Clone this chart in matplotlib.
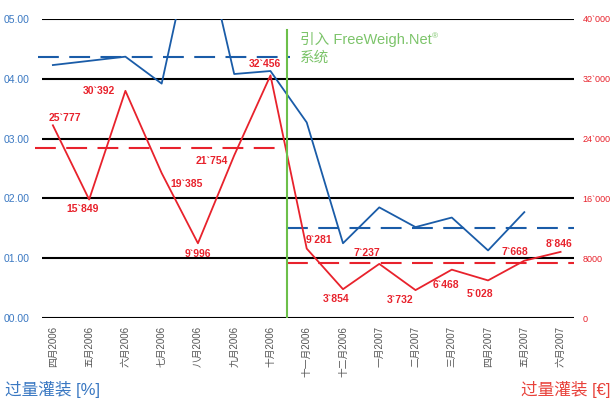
import numpy as np
import matplotlib.pyplot as plt

plt.rcParams['font.family'] = ['Liberation Sans', 'Noto Sans CJK SC']

months = ['四月2006', '五月2006', '六月2006', '七月2006', '八月2006', '九月2006', '十月2006',
          '十一月2006', '十二月2006', '一月2007', '二月2007', '三月2007', '四月2007',
          '五月2007', '六月2007']

# overfill in euro (red, right axis)
overfill_eur = [25777, 15849, 30392, 19385, 9996, 21754, 32456,
                9281, 3854, 7237, 3732, 6468, 5028, 7668, 8846]
eur_labels = ['25`777', '15`849', '30`392', '19`385', '9`996', '21`754', '32`456',
              '9`281', '3`854', '7`237', '3`732', '6`468', '5`028', '7`668', '8`846']

# overfill in percent (blue, left axis); May 2006 and June 2007 missing
pct_idx = [0, 2, 3, 4, 5, 6, 7, 8, 9, 10, 11, 12, 13]
overfill_pct = [4.23, 4.37, 3.92, 6.7, 4.08, 4.13, 3.27, 1.25, 1.85, 1.52, 1.68, 1.13, 1.77]

# averages before / after introduction
pct_mean_before, pct_mean_after = 4.37, 1.50
eur_mean_before, eur_mean_after = 22700, 7300
switch_x = 6.46

left_ticks = [0, 1, 2, 3, 4, 5]
left_labels = ['00.00', '01.00', '02.00', '03.00', '04.00', '05.00']
right_ticks = [0, 8000, 16000, 24000, 32000, 40000]
right_labels = ['0', '8000', '16`000', '24`000', '32`000', '40`000']

# label offsets in points (dx, dy)
offsets = [(9, 5), (-5, -7), (-19, 0), (18, -8), (0, -8), (-16, -4), (-4, 8),
           (9, 6), (-5, -7), (-9, 8), (-11, -7), (-4, -11), (-6, -10), (-7, 6), (-1, 6)]

blue = '#1a5ca8'
red = '#e8222c'
green = '#6cbf4a'

fig = plt.figure(figsize=(6.12, 4), dpi=100)
ax = fig.add_axes([42 / 612, 82 / 400, 532 / 612, 299 / 400])
ax2 = ax.twinx()

x = np.arange(len(months))
xmin, xmax = -0.30, 14.37

for a in (ax, ax2):
    for s in a.spines.values():
        s.set_visible(False)
    a.set_xlim(xmin, xmax)

ax.set_ylim(0, 5)
ax2.set_ylim(0, 40000)

for t in left_ticks:
    ax.axhline(t, color='black', lw=1.5, zorder=1)

ax.plot(pct_idx, overfill_pct, color=blue, lw=1.3, zorder=3)
ax.plot([-0.41, 6.54], [pct_mean_before] * 2, color=blue, lw=1.5,
        ls=(0, (10, 5)), clip_on=False, zorder=3)
ax.plot([switch_x, xmax], [pct_mean_after] * 2, color=blue, lw=1.5,
        ls=(0, (10, 5)), zorder=3)

ax2.plot(x, overfill_eur, color=red, lw=1.3, zorder=3)
ax2.plot([-0.50, switch_x], [eur_mean_before] * 2, color=red, lw=1.5,
         ls=(0, (10, 5)), clip_on=False, zorder=3)
ax2.plot([switch_x, xmax], [eur_mean_after] * 2, color=red, lw=1.5,
         ls=(0, (10, 5)), zorder=3)

for xi, v, lab, off in zip(x, overfill_eur, eur_labels, offsets):
    ax2.annotate(lab, (xi, v), xytext=off, textcoords='offset points',
                 ha='center', va='center', color=red, fontsize=7.5,
                 fontweight='bold')

ax2.plot([switch_x, switch_x], [0, 38500], color=green, lw=1.5, zorder=4)
note = ax2.text(6.81, 38300, '引入 FreeWeigh.Net\n系统', color='#7cc46a',
                fontsize=10.5, va='top', ha='left', linespacing=1.4)
ax2.annotate('®', xy=(1, 1), xycoords=note, xytext=(0.5, -1),
             textcoords='offset points', color='#7cc46a', fontsize=6,
             ha='left', va='top')

ax.set_yticks(left_ticks)
ax.set_yticklabels(left_labels, color='#3a78c2', fontsize=7.5)
ax2.set_yticks(right_ticks)
ax2.set_yticklabels(right_labels, color=red, fontsize=6.5)
ax.tick_params(axis='y', length=0, pad=9)
ax2.tick_params(axis='y', length=0, pad=6)

ax.set_xticks(x)
ax.set_xticklabels(months, rotation=90, color='#555555', fontsize=7)
ax.tick_params(axis='x', length=0, pad=6)

fig.text(5 / 612, 1 - 389 / 400, '过量灌装 [%]', color='#3a78c2', fontsize=12,
         ha='left', va='center')
fig.text(610 / 612, 1 - 389 / 400, '过量灌装 [€]', color='#e8413a', fontsize=12,
         ha='right', va='center')

fig.savefig('out.png', dpi=100)
